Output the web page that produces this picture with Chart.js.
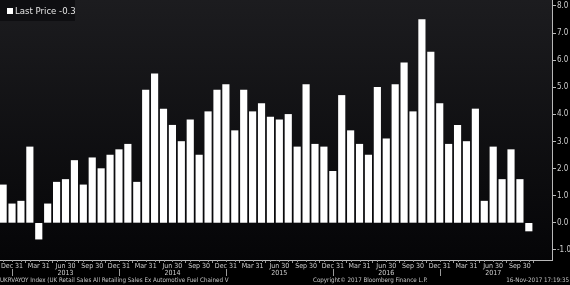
<!DOCTYPE html>
<html>
<head>
<meta charset="utf-8">
<script src="https://cdn.jsdelivr.net/npm/chart.js@4.4.1/dist/chart.umd.min.js"></script>
<style>
  html, body { margin: 0; padding: 0; background: #000; }
  #wrap { position: relative; width: 570px; height: 285px; overflow: hidden; font-family: "DejaVu Sans Condensed", "Liberation Sans", Arial, sans-serif; }
  #chart { position: absolute; left: 0; top: 0; }
  #legend { position: absolute; left: 0; top: 0; width: 75px; height: 21px; background: #0e0e11; color: #e4e4e4; font-size: 9.5px; line-height: 21px; white-space: nowrap; }
  #legend .sw { display: inline-block; width: 6px; height: 6px; background: #fff; margin: 0 2px 0 7px; }
  .foot { position: absolute; top: 276px; font-size: 6.2px; line-height: 8px; color: #c8c8c8; white-space: nowrap; }
</style>
</head>
<body>
<div id="wrap">
  <canvas id="chart" width="570" height="285"></canvas>
  <div id="legend"><span class="sw"></span>Last Price -0.3</div>
  <div class="foot" style="left:0">UKRVAYOY Index (UK Retail Sales All Retailing Sales Ex Automotive Fuel Chained V</div>
  <div class="foot" style="left:313px">Copyright© 2017 Bloomberg Finance L.P.</div>
  <div class="foot" style="right:1px">16-Nov-2017 17:19:35</div>
</div>
<script>
// monthly periods, Nov 2012 - Oct 2017
const months = [
  "2012-11", "2012-12",
  "2013-01", "2013-02", "2013-03", "2013-04", "2013-05", "2013-06", "2013-07", "2013-08", "2013-09", "2013-10", "2013-11", "2013-12",
  "2014-01", "2014-02", "2014-03", "2014-04", "2014-05", "2014-06", "2014-07", "2014-08", "2014-09", "2014-10", "2014-11", "2014-12",
  "2015-01", "2015-02", "2015-03", "2015-04", "2015-05", "2015-06", "2015-07", "2015-08", "2015-09", "2015-10", "2015-11", "2015-12",
  "2016-01", "2016-02", "2016-03", "2016-04", "2016-05", "2016-06", "2016-07", "2016-08", "2016-09", "2016-10", "2016-11", "2016-12",
  "2017-01", "2017-02", "2017-03", "2017-04", "2017-05", "2017-06", "2017-07", "2017-08", "2017-09", "2017-10"
];

// UKRVAYOY last price, % yoy
const lastPrice = [
  1.4, 0.7,
  0.8, 2.8, -0.6, 0.7, 1.5, 1.6, 2.3, 1.4, 2.4, 2.0, 2.5, 2.7,
  2.9, 1.5, 4.9, 5.5, 4.2, 3.6, 3.0, 3.8, 2.5, 4.1, 4.9, 5.1,
  3.4, 4.9, 4.1, 4.4, 3.9, 3.8, 4.0, 2.8, 5.1, 2.9, 2.8, 1.9,
  4.7, 3.4, 2.9, 2.5, 5.0, 3.1, 5.1, 5.9, 4.1, 7.5, 6.3, 4.4,
  2.9, 3.6, 3.0, 4.2, 0.8, 2.8, 1.6, 2.7, 1.6, -0.3
];

const yTicks = [-1, 0, 1, 2, 3, 4, 5, 6, 7, 8];
const quarterLabels = { "12": "Dec 31", "03": "Mar 31", "06": "Jun 30", "09": "Sep 30" };
const yearLabels = ["2013", "2014", "2015", "2016", "2017"];

const FONT = "'DejaVu Sans Condensed', 'Liberation Sans', Arial, sans-serif";

// indices of the quarter ends that carry a label
const tickIdx = [];
months.forEach(function (m, i) {
  if (quarterLabels[m.slice(5)]) tickIdx.push(i);
});

function xLabel(i) {
  const m = months[i];
  const txt = quarterLabels[m.slice(5)];
  const yr = m.slice(0, 4);
  if (m.slice(5) === "06" && yearLabels.indexOf(yr) >= 0) return [txt, yr];
  return txt;
}

// plot background + year dividers + month ticks
const bloombergBits = {
  id: "bloombergBits",
  beforeDraw(chart) {
    const { ctx, chartArea: a } = chart;
    const g = ctx.createLinearGradient(0, a.top, 0, a.bottom);
    g.addColorStop(0, "#1c1c1f");
    g.addColorStop(1, "#050507");
    ctx.save();
    ctx.fillStyle = g;
    ctx.fillRect(a.left, a.top, a.right - a.left, a.bottom - a.top);
    ctx.restore();
  },
  afterDraw(chart) {
    const { ctx, chartArea: a } = chart;
    const x = chart.scales.x;
    ctx.save();
    ctx.strokeStyle = "#9a9a9a";
    ctx.lineWidth = 1;
    ctx.beginPath();
    months.forEach(function (m, i) {
      const px = Math.round(x.getPixelForValue(i)) + 0.5;
      ctx.moveTo(px, a.bottom);
      ctx.lineTo(px, a.bottom + 2);
      if (m.slice(5) === "12") {
        ctx.moveTo(px, a.bottom + 9);
        ctx.lineTo(px, a.bottom + 16);
      }
    });
    ctx.stroke();
    ctx.restore();
  }
};

const ctx = document.getElementById("chart").getContext("2d");

const myChart = new Chart(ctx, {
  type: "bar",
  data: {
    datasets: [
      {
        label: "Last Price",
        data: lastPrice.map(function (v, i) { return { x: i, y: v }; }),
        backgroundColor: "#ffffff",
        borderWidth: 0,
        barThickness: 6.5,
      },
    ],
  },
  options: {
    responsive: false,
    animation: false,
    layout: { padding: 0 },
    plugins: {
      legend: { display: false },
      tooltip: { enabled: false },
    },
    scales: {
      x: {
        type: "linear",
        offset: false,
        min: -0.35,
        max: 61.6,
        afterBuildTicks: function (sc) {
          sc.ticks = tickIdx.map(function (v) { return { value: v }; });
        },
        afterFit: function (sc) {
          sc.height = 25;
          sc.paddingLeft = 0;
          sc.paddingRight = 0;
        },
        ticks: {
          autoSkip: false,
          maxRotation: 0,
          padding: 0,
          color: "#cfcfcf",
          font: { family: FONT, size: 7, lineHeight: 1.0 },
          callback: function (v) { return xLabel(v); },
        },
        grid: { drawOnChartArea: false, tickLength: 3, color: "#9a9a9a" },
        border: { color: "#b8b8b8" },
      },
      y: {
        position: "right",
        min: -1.37,
        max: 8.22,
        afterBuildTicks: function (sc) {
          sc.ticks = yTicks.map(function (v) { return { value: v }; });
        },
        afterFit: function (sc) {
          sc.width = 18;
          sc.paddingTop = 0;
          sc.paddingBottom = 0;
        },
        ticks: {
          padding: 1,
          color: "#cfcfcf",
          font: { family: FONT, size: 8 },
          callback: function (v) { return v.toFixed(1); },
        },
        grid: { drawOnChartArea: false, tickLength: 4, color: "#b8b8b8" },
        border: { color: "#b8b8b8" },
      },
    },
  },
  plugins: [bloombergBits],
});
</script>
</body>
</html>
